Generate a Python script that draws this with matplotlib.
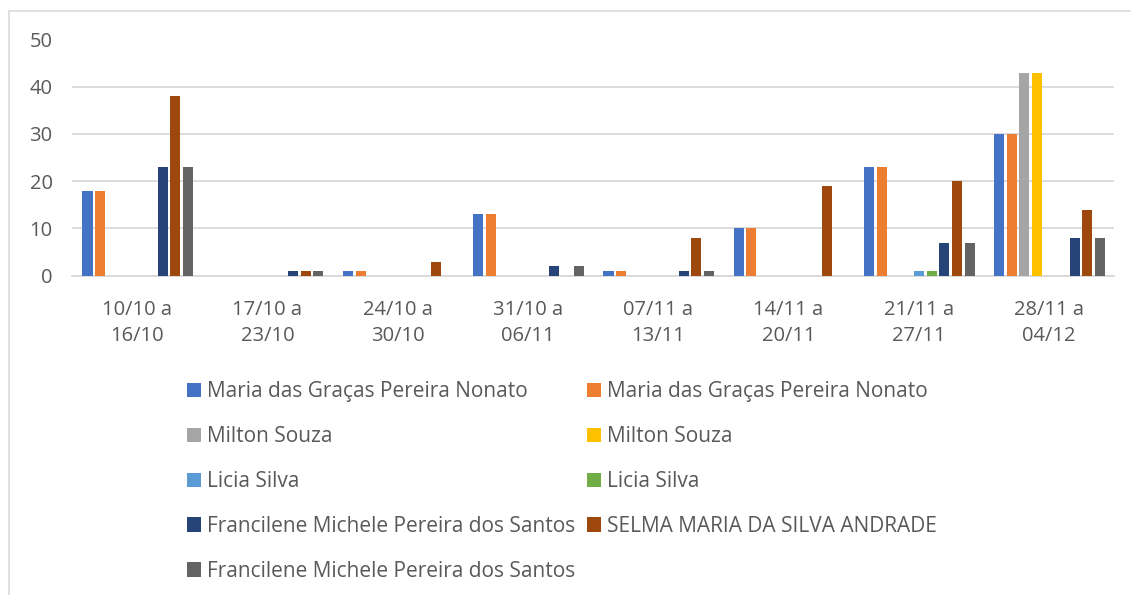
import matplotlib
matplotlib.use("Agg")
import matplotlib.pyplot as plt
from matplotlib.patches import Rectangle, Patch

plt.rcParams['font.family'] = ['Open Sans', 'DejaVu Sans']

categories = ["10/10 a\n16/10", "17/10 a\n23/10", "24/10 a\n30/10", "31/10 a\n06/11",
              "07/11 a\n13/11", "14/11 a\n20/11", "21/11 a\n27/11", "28/11 a\n04/12"]

series_names = [
    "Maria das Graças Pereira Nonato",
    "Maria das Graças Pereira Nonato",
    "Milton Souza",
    "Milton Souza",
    "Licia Silva",
    "Licia Silva",
    "Francilene Michele Pereira dos Santos",
    "SELMA MARIA DA SILVA ANDRADE",
    "Francilene Michele Pereira dos Santos",
]
maria_1 = [18, 0, 1, 13, 1, 10, 23, 30]
maria_2 = [18, 0, 1, 13, 1, 10, 23, 30]
milton_1 = [0, 0, 0, 0, 0, 0, 0, 43]
milton_2 = [0, 0, 0, 0, 0, 0, 0, 43]
licia_1 = [0, 0, 0, 0, 0, 0, 1, 0]
licia_2 = [0, 0, 0, 0, 0, 0, 1, 0]
francilene_1 = [23, 1, 0, 2, 1, 0, 7, 8]
selma = [38, 1, 3, 0, 8, 19, 20, 14]
francilene_2 = [23, 1, 0, 2, 1, 0, 7, 8]
values = [maria_1, maria_2, milton_1, milton_2, licia_1, licia_2,
          francilene_1, selma, francilene_2]
colors = ["#4472C4", "#ED7D31", "#A5A5A5", "#FFC000", "#5B9BD5", "#70AD47",
          "#264478", "#9E480E", "#636363"]
yticks = [0, 10, 20, 30, 40, 50]

W, H = 1131, 595
fig = plt.figure(figsize=(W / 100, H / 100), dpi=100)

# outer chart frame
fig.patches.append(Rectangle((8.5 / W, -0.1), 2.0, (H - 10.5) / H + 0.1,
                             transform=fig.transFigure, fill=False,
                             edgecolor="#D9D9D9", linewidth=1.2))

ax_left, ax_right = 72 / W, 1114 / W
ax_bottom, ax_top = 1 - 275.7 / H, 1 - 39.5 / H
ax = fig.add_axes([ax_left, ax_bottom, ax_right - ax_left, ax_top - ax_bottom])

n = len(values)
slot = 0.0965
bw = 0.077
for i, (vals, c) in enumerate(zip(values, colors)):
    xs = [k + (i - (n - 1) / 2) * slot + 0.005 for k in range(len(categories))]
    ax.bar(xs, vals, width=bw, color=c, zorder=3, linewidth=0)

ax.set_xlim(-0.5, len(categories) - 0.5)
ax.set_ylim(0, 50)
ax.set_yticks(yticks)
ax.set_yticklabels([str(t) for t in yticks])
ax.set_xticks(range(len(categories)))
ax.set_xticklabels(categories, linespacing=1.4)
ax.grid(axis="y", color="#D9D9D9", linewidth=1.3, zorder=0)
for s in ["top", "right", "left"]:
    ax.spines[s].set_visible(False)
ax.spines["bottom"].set_color("#D9D9D9")
ax.spines["bottom"].set_linewidth(1.3)
ax.tick_params(axis="both", length=0, labelsize=14.5, colors="#595959")
ax.tick_params(axis="y", pad=14)
ax.tick_params(axis="x", pad=17.5)

handles = [Patch(facecolor=c, edgecolor="none") for c in colors]
leg_kw = dict(ncol=1, loc="upper left", frameon=False, fontsize=15,
              handlelength=0.67, handleheight=0.67, handletextpad=0.3,
              labelspacing=1.15, borderaxespad=0, borderpad=0)
col1 = [0, 2, 4, 6, 8]
col2 = [1, 3, 5, 7]
leg1 = fig.legend([handles[i] for i in col1], [series_names[i] for i in col1],
                  bbox_to_anchor=(187 / W, 1 - 381 / H), **leg_kw)
leg2 = fig.legend([handles[i] for i in col2], [series_names[i] for i in col2],
                  bbox_to_anchor=(587 / W, 1 - 381 / H), **leg_kw)
for leg in (leg1, leg2):
    for t in leg.get_texts():
        t.set_color("#595959")

fig.savefig("out.png", dpi=100)
